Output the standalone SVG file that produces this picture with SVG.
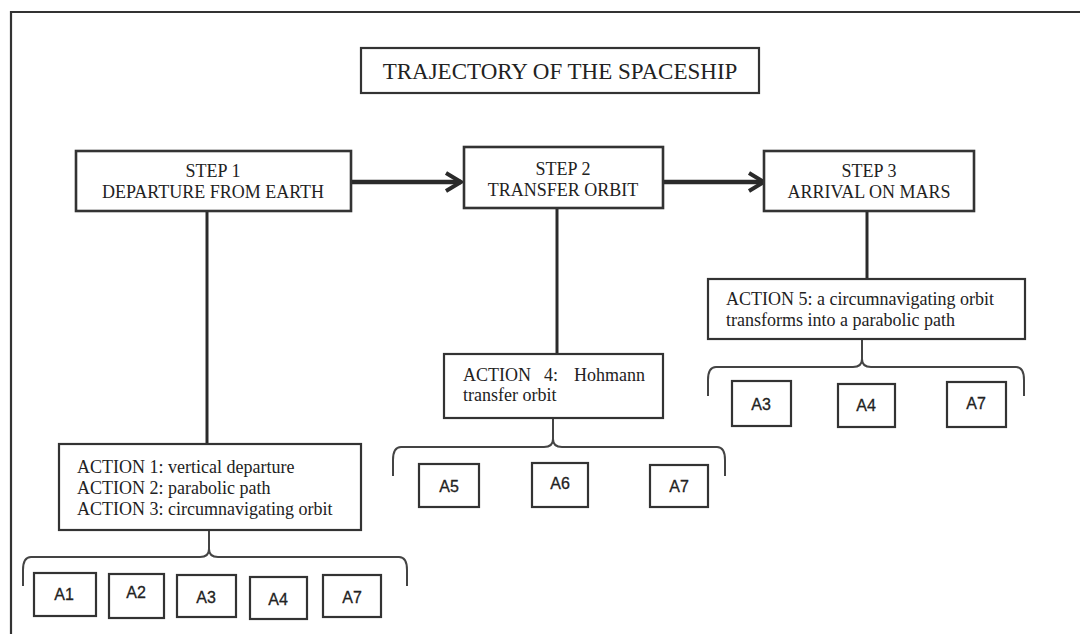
<svg xmlns="http://www.w3.org/2000/svg" width="1080" height="634" viewBox="0 0 1080 634">
<style>
.box{fill:#fff;stroke:#333;stroke-width:2.2}
.step{fill:#fff;stroke:#333;stroke-width:2.6}
.serif{font-family:"Liberation Serif","Times New Roman",serif;fill:#222}
.t18{font-size:18px}
.ctr{text-anchor:middle}
.lab{font-family:"Liberation Sans",Arial,sans-serif;font-size:16px;fill:#222;text-anchor:middle;stroke:#222;stroke-width:0.3}
.thick{stroke:#2a2a2a;stroke-width:3;fill:none}
.arrow{stroke:#2a2a2a;stroke-width:4.5;fill:none}
.brace{stroke:#444;stroke-width:2;fill:none}
</style>
<defs>
<marker id="chev" markerUnits="userSpaceOnUse" markerWidth="24" markerHeight="24" refX="20" refY="12" orient="auto" viewBox="0 0 24 24">
<path d="M5,3 L20,12 L5,21" fill="none" stroke="#2a2a2a" stroke-width="4"/>
</marker>
</defs>
<rect width="1080" height="634" fill="#fff"/>
<path d="M11,634 V12 H1080" fill="none" stroke="#333" stroke-width="2.2"/>

<g id="connectors">
<path class="arrow" d="M351,182 H461" marker-end="url(#chev)"/>
<path class="arrow" d="M663,182 H764" marker-end="url(#chev)"/>
<path class="thick" d="M207,211 V444"/>
<path class="thick" d="M557,208 V354"/>
<path class="thick" d="M867,211 V279"/>
<path class="brace" d="M209,530 V549 C209,554 212,557 218,557 H399 C405,557 407,563 407,570 V586 M209,549 C209,554 206,557 200,557 H31 C25,557 23,563 23,570 V586"/>
<path class="brace" d="M553,418 V439 C553,444 556,447 562,447 H717 C723,447 725,453 725,460 V476 M553,439 C553,444 550,447 544,447 H401 C395,447 393,453 393,460 V476"/>
<path class="brace" d="M862,339 V359 C862,364 865,367 871,367 H1016 C1022,367 1024,373 1024,380 V396 M862,359 C862,364 859,367 853,367 H716 C710,367 708,373 708,380 V396"/>
</g>

<g id="title">
<rect class="box" x="361" y="48" width="398" height="45"/>
<text class="serif ctr" x="560" y="79" font-size="23">TRAJECTORY OF THE SPACESHIP</text>
</g>

<g id="step1">
<rect class="step" x="76" y="151" width="275" height="60"/>
<text class="serif t18 ctr" x="213" y="177">STEP 1</text>
<text class="serif t18 ctr" x="213" y="198">DEPARTURE FROM EARTH</text>
</g>

<g id="step2">
<rect class="step" x="464" y="147" width="199" height="61"/>
<text class="serif t18 ctr" x="563" y="175">STEP 2</text>
<text class="serif t18 ctr" x="563" y="196">TRANSFER ORBIT</text>
</g>

<g id="step3">
<rect class="step" x="764" y="151" width="210" height="60"/>
<text class="serif t18 ctr" x="869" y="177">STEP 3</text>
<text class="serif t18 ctr" x="869" y="198">ARRIVAL ON MARS</text>
</g>

<g id="action123">
<rect class="box" x="59" y="444" width="302" height="86"/>
<text class="serif t18" x="77" y="473">ACTION 1: vertical departure</text>
<text class="serif t18" x="77" y="494">ACTION 2: parabolic path</text>
<text class="serif t18" x="77" y="515">ACTION 3: circumnavigating orbit</text>
</g>

<g id="action4">
<rect class="box" x="444" y="354" width="219" height="64"/>
<text class="serif t18" y="381"><tspan x="463">ACTION</tspan><tspan x="544">4:</tspan><tspan x="645" text-anchor="end">Hohmann</tspan></text>
<text class="serif t18" x="463" y="401">transfer orbit</text>
</g>

<g id="action5">
<rect class="box" x="708" y="279" width="317" height="60"/>
<text class="serif t18" x="726" y="305">ACTION 5: a circumnavigating orbit</text>
<text class="serif t18" x="726" y="326">transforms into a parabolic path</text>
</g>

<g id="s1-a1"><rect class="box" x="34" y="573" width="62" height="43"/><text class="lab" x="64" y="600">A1</text></g>
<g id="s1-a2"><rect class="box" x="109" y="574" width="55" height="44"/><text class="lab" x="136" y="598">A2</text></g>
<g id="s1-a3"><rect class="box" x="177" y="575" width="59" height="42"/><text class="lab" x="206" y="603">A3</text></g>
<g id="s1-a4"><rect class="box" x="250" y="577" width="57" height="42"/><text class="lab" x="278" y="605">A4</text></g>
<g id="s1-a7"><rect class="box" x="323" y="575" width="58" height="42"/><text class="lab" x="352" y="603">A7</text></g>

<g id="s2-a5"><rect class="box" x="419" y="464" width="60" height="43"/><text class="lab" x="449" y="492">A5</text></g>
<g id="s2-a6"><rect class="box" x="532" y="463" width="56" height="44"/><text class="lab" x="560" y="489">A6</text></g>
<g id="s2-a7"><rect class="box" x="650" y="465" width="58" height="42"/><text class="lab" x="679" y="492">A7</text></g>

<g id="s3-a3"><rect class="box" x="732" y="381" width="59" height="45"/><text class="lab" x="761" y="410">A3</text></g>
<g id="s3-a4"><rect class="box" x="838" y="384" width="57" height="43"/><text class="lab" x="866" y="411">A4</text></g>
<g id="s3-a7"><rect class="box" x="947" y="382" width="59" height="45"/><text class="lab" x="976" y="409">A7</text></g>
</svg>
